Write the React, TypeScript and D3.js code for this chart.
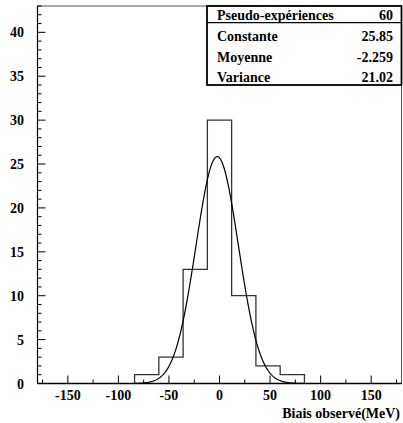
import React from 'react';
import * as d3 from 'd3';

// histogram bins (MeV) and counts
const binEdges = [-84, -60, -36, -12, 12, 36, 60, 84];
const binCounts = [1, 3, 13, 30, 10, 2, 1];

// fit results shown in the stats box
const statLabels = ['Pseudo-expériences', 'Constante', 'Moyenne', 'Variance'];
const statValues = ['60', '25.85', '-2.259', '21.02'];
const fitConstant = 25.85;
const fitMean = -2.259;
const fitSigma = 21.02;

const xTicks = [-150, -100, -50, 0, 50, 100, 150];
const yTicks = [0, 5, 10, 15, 20, 25, 30, 35, 40];

const W = 403;
const H = 423;
const margin = { top: 6, right: 1.5, bottom: 39.5, left: 37.5 };
const font = '"Liberation Serif", "Times New Roman", serif';

const App: React.FC = () => {
  const x = d3.scaleLinear().domain([-180, 180]).range([margin.left, W - margin.right]);
  const y = d3.scaleLinear().domain([0, 43]).range([H - margin.bottom, margin.top]);

  // step outline of the histogram
  let hist = `M${x(binEdges[0])},${y(0)}`;
  binCounts.forEach((c, i) => {
    hist += `L${x(binEdges[i])},${y(c)}L${x(binEdges[i + 1])},${y(c)}`;
  });
  hist += `L${x(binEdges[binEdges.length - 1])},${y(0)}`;

  const gaussX = d3.range(-84, 84.01, 0.5);
  const gauss = d3.line<number>()
    .x(d => x(d))
    .y(d => y(fitConstant * Math.exp(-0.5 * ((d - fitMean) / fitSigma) ** 2)))(gaussX);

  const xMinor = d3.range(-175, 180, 25).filter(v => v % 50 !== 0);
  const yMinor = d3.range(0, 44, 1).filter(v => v % 5 !== 0);

  const x0 = x(-180);
  const x1 = x(180);
  const y0 = y(0);
  const yTop = y(43);

  const box = { left: 207, top: yTop, right: x1, bottom: 85 };
  const rowY = [20, 41, 62, 81.5];

  return (
    <svg width={W} height={H} style={{ position: 'absolute', left: 0, top: 0 }}
      fontFamily={font} fontWeight="bold">
      <rect x={0} y={0} width={W} height={H} fill="#fff" />
      <rect x={x0} y={yTop} width={x1 - x0} height={y0 - yTop} fill="none" stroke="#555" strokeWidth={1} />

      {/* y axis */}
      <line x1={x0} x2={x0} y1={yTop} y2={y0} stroke="#000" strokeWidth={1.2} />
      {yTicks.map(t => (
        <g key={'yt' + t}>
          <line x1={x0} x2={x0 + 8} y1={y(t)} y2={y(t)} stroke="#000" />
          <text x={24} y={y(t) + 5} fontSize={14} textAnchor="end">{t}</text>
        </g>
      ))}
      {yMinor.map(t => (
        <line key={'ym' + t} x1={x0} x2={x0 + 4} y1={y(t)} y2={y(t)} stroke="#000" />
      ))}

      {/* x axis */}
      <line x1={x0} x2={x1} y1={y0} y2={y0} stroke="#000" strokeWidth={1.5} />
      {xTicks.map(t => (
        <g key={'xt' + t}>
          <line x1={x(t)} x2={x(t)} y1={y0} y2={y0 - 8} stroke="#000" />
          <text x={x(t)} y={400} fontSize={14} textAnchor="middle">{t}</text>
        </g>
      ))}
      {xMinor.map(t => (
        <line key={'xm' + t} x1={x(t)} x2={x(t)} y1={y0} y2={y0 - 4} stroke="#000" />
      ))}
      <text x={400} y={418} fontSize={14} textAnchor="end">Biais observé(MeV)</text>

      {/* histogram and fit */}
      <path d={hist} fill="none" stroke="#333" strokeWidth={1.3} />
      <path d={gauss ?? ''} fill="none" stroke="#000" strokeWidth={1.2} />

      {/* stats box */}
      <rect x={box.left} y={box.top} width={box.right - box.left} height={box.bottom - box.top}
        fill="#fff" stroke="#000" strokeWidth={1.8} />
      <line x1={box.left} x2={box.right} y1={22.7} y2={22.7} stroke="#000" strokeWidth={1.2} />
      {statLabels.map((s, i) => (
        <g key={s} fontSize={14}>
          <text x={217} y={rowY[i]}>{s}</text>
          <text x={393} y={rowY[i]} textAnchor="end">{statValues[i]}</text>
        </g>
      ))}
    </svg>
  );
};

export default App;
